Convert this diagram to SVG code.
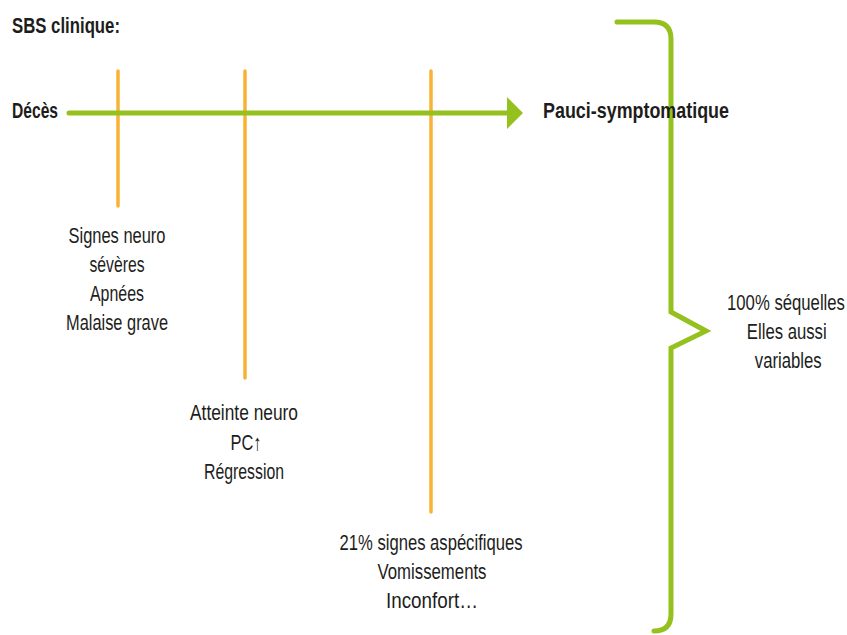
<svg xmlns="http://www.w3.org/2000/svg" width="847" height="635" viewBox="0 0 847 635">
<style>
.t{font-family:"Liberation Sans",Arial,sans-serif;font-size:22px;fill:#1d1d1b;text-anchor:middle}
.b{font-family:"Liberation Sans",Arial,sans-serif;font-size:22px;font-weight:bold;fill:#1d1d1b}
.or{stroke:#F9B233;stroke-width:3.5;stroke-linecap:round;fill:none}
.gr{stroke:#95C11F;stroke-width:5;stroke-linecap:round;stroke-linejoin:miter;fill:none}
</style>
<rect width="847" height="635" fill="#ffffff"/>
<g id="title"><text class="b" x="12" y="33" textLength="108" lengthAdjust="spacingAndGlyphs">SBS clinique:</text></g>
<g id="connectors">
<line class="or" x1="118" y1="71" x2="118" y2="206"/>
<line class="or" x1="245" y1="71" x2="245" y2="378"/>
<line class="or" x1="431" y1="71" x2="431" y2="512"/>
<line class="gr" x1="69" y1="113" x2="510" y2="113"/>
<polygon points="507,97 523,113 507,129" fill="#95C11F"/>
<path class="gr" d="M617,22 H654 Q671,22 671,39 V312 L706,331 L671,348 V614 Q671,631 654,631"/>
</g>
<g id="deces"><text class="b" x="12" y="118" textLength="46" lengthAdjust="spacingAndGlyphs">Décès</text></g>
<g id="pauci"><text class="b" x="543" y="118" textLength="186" lengthAdjust="spacingAndGlyphs">Pauci-symptomatique</text></g>
<g id="n1">
<text class="t" x="117" y="243" textLength="97" lengthAdjust="spacingAndGlyphs">Signes neuro</text>
<text class="t" x="117" y="272" textLength="55" lengthAdjust="spacingAndGlyphs">sévères</text>
<text class="t" x="117" y="301" textLength="54" lengthAdjust="spacingAndGlyphs">Apnées</text>
<text class="t" x="117" y="330" textLength="102" lengthAdjust="spacingAndGlyphs">Malaise grave</text>
</g>
<g id="n2">
<text class="t" x="244" y="420" textLength="108" lengthAdjust="spacingAndGlyphs">Atteinte neuro</text>
<text class="t" x="246" y="450" textLength="31" lengthAdjust="spacingAndGlyphs">PC↑</text>
<text class="t" x="244" y="479" textLength="80" lengthAdjust="spacingAndGlyphs">Régression</text>
</g>
<g id="n3">
<text class="t" x="431" y="550" textLength="183" lengthAdjust="spacingAndGlyphs">21% signes aspécifiques</text>
<text class="t" x="432" y="579" textLength="109" lengthAdjust="spacingAndGlyphs">Vomissements</text>
<text class="t" x="432" y="608" textLength="92" lengthAdjust="spacingAndGlyphs">Inconfort…</text>
</g>
<g id="n4" transform="translate(786,0) scale(0.76,1)">
<text class="t" x="0" y="310">100% séquelles</text>
<text class="t" x="1" y="339">Elles aussi</text>
<text class="t" x="3" y="368">variables</text>
</g>
</svg>
